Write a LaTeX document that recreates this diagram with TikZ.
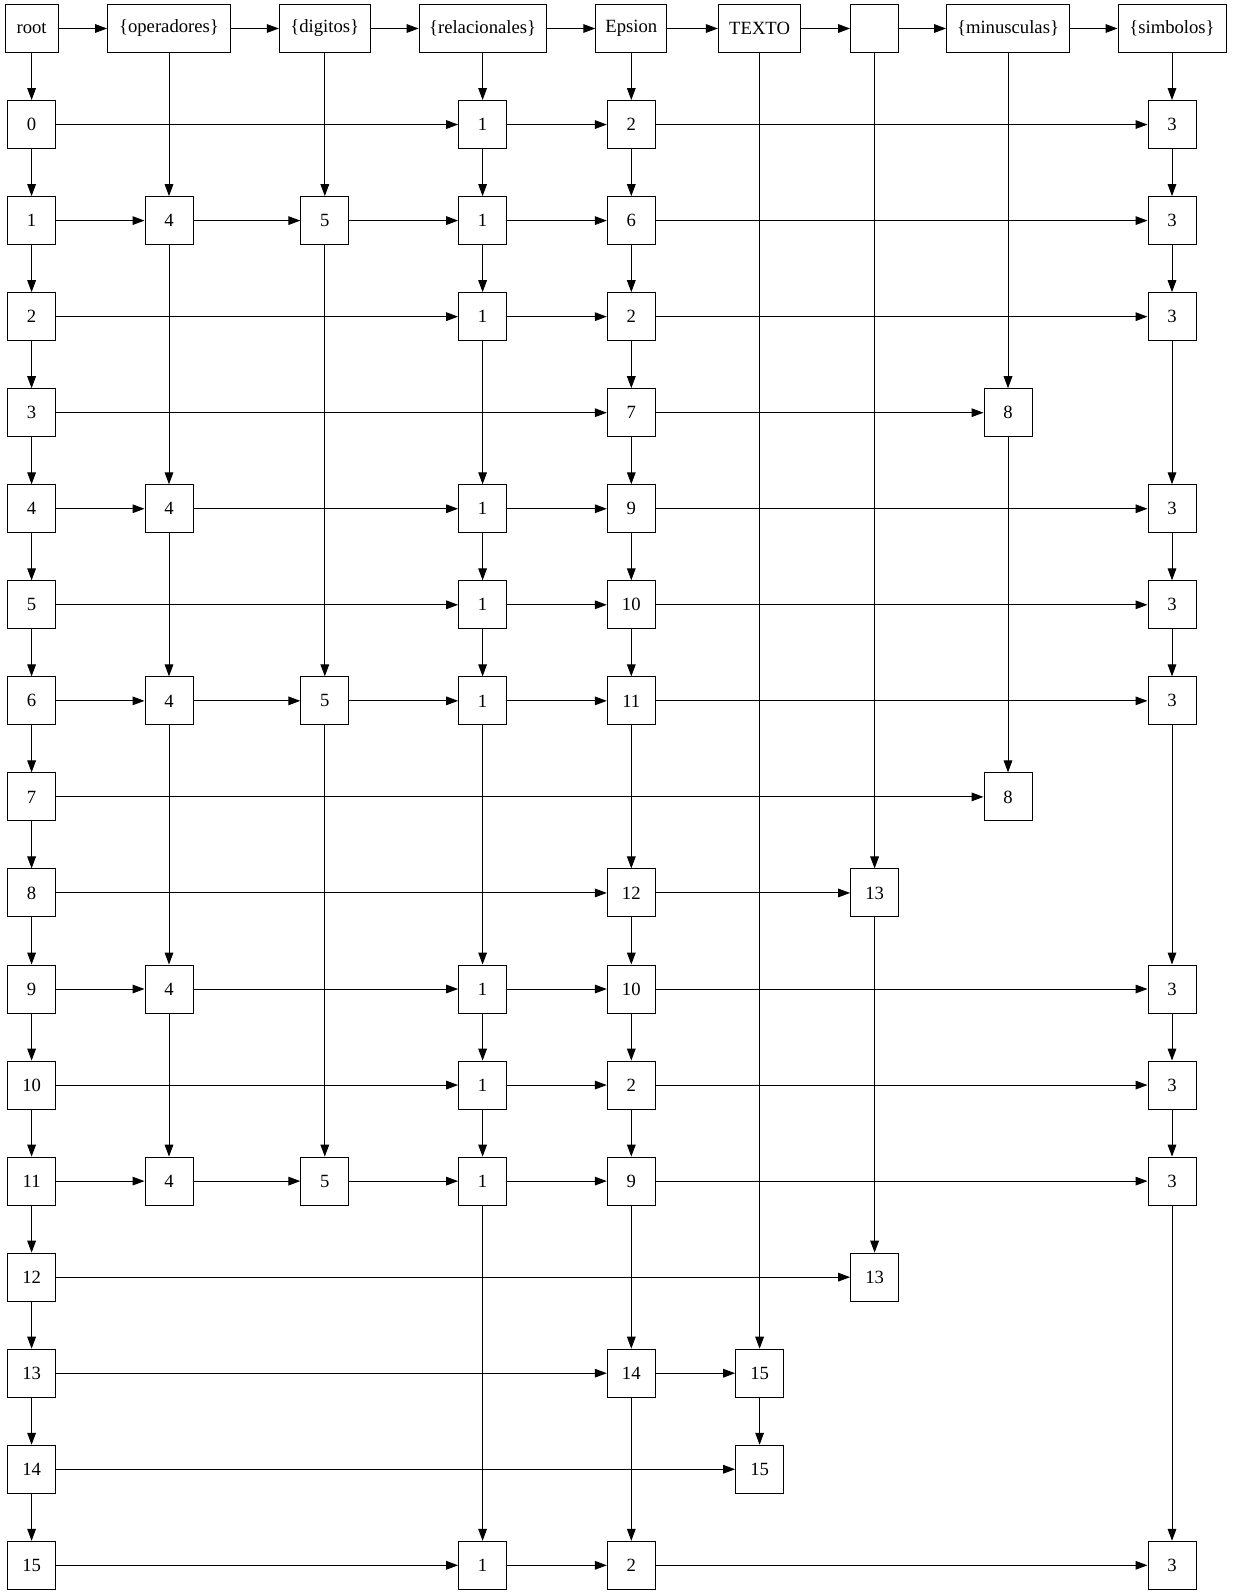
\documentclass[tikz,border=0pt]{standalone}
\usepackage{fontspec}
\setmainfont{Liberation Serif}
\usetikzlibrary{arrows.meta}
\newcommand\Nd[3]{%
  \pgfmathsetmacro\xx{{31.6,169,324.8,482.6,631.3,759.6,874.6,1008,1172}[#2]}%
  \pgfmathsetmacro\yy{28.5+96.05*#1}%
  \node[nb] (n#1-#2) at (\xx,\yy) {#3};}
\newcommand\Hd[3]{%
  \pgfmathsetmacro\xx{{31.6,169,324.8,482.6,631.3,759.6,874.6,1008,1172}[#1]}%
  \node[nb, minimum width=#2*0.75pt] (n0-#1) at (\xx,28.5) {#3};}
\begin{document}
\begin{tikzpicture}[x=0.75pt,y=-0.75pt,
  nb/.style={draw, line width=0.75pt, fill=white, inner sep=0pt, minimum height=36pt, minimum width=36pt,
    font=\fontsize{14}{16}\selectfont},
  e/.style={line width=0.75pt, -{Triangle[length=9pt,width=6.5pt]}}]
\useasboundingbox (0,0) rectangle (1232,1595);
% header
\Hd{0}{53}{root}
\Hd{1}{123}{\{operadores\}}
\Hd{2}{91}{\{digitos\}}
\Hd{3}{127}{\{relacionales\}}
\Hd{4}{71}{Epsion}
\Hd{5}{82.5}{TEXTO}
\Hd{6}{48}{}
\Hd{7}{123}{\{minusculas\}}
\Hd{8}{108}{\{simbolos\}}
% column 0
\foreach \r in {1,...,16}{\pgfmathtruncatemacro\lab{\r-1}\Nd{\r}{0}{\lab}}
% other nodes
\Nd{1}{3}{1}\Nd{1}{4}{2}\Nd{1}{8}{3}
\Nd{2}{1}{4}\Nd{2}{2}{5}\Nd{2}{3}{1}\Nd{2}{4}{6}\Nd{2}{8}{3}
\Nd{3}{3}{1}\Nd{3}{4}{2}\Nd{3}{8}{3}
\Nd{4}{4}{7}\Nd{4}{7}{8}
\Nd{5}{1}{4}\Nd{5}{3}{1}\Nd{5}{4}{9}\Nd{5}{8}{3}
\Nd{6}{3}{1}\Nd{6}{4}{10}\Nd{6}{8}{3}
\Nd{7}{1}{4}\Nd{7}{2}{5}\Nd{7}{3}{1}\Nd{7}{4}{11}\Nd{7}{8}{3}
\Nd{8}{7}{8}
\Nd{9}{4}{12}\Nd{9}{6}{13}
\Nd{10}{1}{4}\Nd{10}{3}{1}\Nd{10}{4}{10}\Nd{10}{8}{3}
\Nd{11}{3}{1}\Nd{11}{4}{2}\Nd{11}{8}{3}
\Nd{12}{1}{4}\Nd{12}{2}{5}\Nd{12}{3}{1}\Nd{12}{4}{9}\Nd{12}{8}{3}
\Nd{13}{6}{13}
\Nd{14}{4}{14}\Nd{14}{5}{15}
\Nd{15}{5}{15}
\Nd{16}{3}{1}\Nd{16}{4}{2}\Nd{16}{8}{3}
% horizontal edges
\foreach \r/\a/\b in {0/0/1,0/1/2,0/2/3,0/3/4,0/4/5,0/5/6,0/6/7,0/7/8,
  1/0/3,1/3/4,1/4/8,
  2/0/1,2/1/2,2/2/3,2/3/4,2/4/8,
  3/0/3,3/3/4,3/4/8,
  4/0/4,4/4/7,
  5/0/1,5/1/3,5/3/4,5/4/8,
  6/0/3,6/3/4,6/4/8,
  7/0/1,7/1/2,7/2/3,7/3/4,7/4/8,
  8/0/7,
  9/0/4,9/4/6,
  10/0/1,10/1/3,10/3/4,10/4/8,
  11/0/3,11/3/4,11/4/8,
  12/0/1,12/1/2,12/2/3,12/3/4,12/4/8,
  13/0/6,
  14/0/4,14/4/5,
  15/0/5,
  16/0/3,16/3/4,16/4/8}
  {\draw[e] (n\r-\a) -- (n\r-\b);}
% vertical edges
\foreach \r in {0,...,15}{\pgfmathtruncatemacro\s{\r+1}\draw[e] (n\r-0) -- (n\s-0);}
\foreach \c/\a/\b in {1/0/2,1/2/5,1/5/7,1/7/10,1/10/12,
  2/0/2,2/2/7,2/7/12,
  3/0/1,3/1/2,3/2/3,3/3/5,3/5/6,3/6/7,3/7/10,3/10/11,3/11/12,3/12/16,
  4/0/1,4/1/2,4/2/3,4/3/4,4/4/5,4/5/6,4/6/7,4/7/9,4/9/10,4/10/11,4/11/12,4/12/14,4/14/16,
  5/0/14,5/14/15,
  6/0/9,6/9/13,
  7/0/4,7/4/8,
  8/0/1,8/1/2,8/2/3,8/3/5,8/5/6,8/6/7,8/7/10,8/10/11,8/11/12,8/12/16}
  {\draw[e] (n\a-\c) -- (n\b-\c);}
\end{tikzpicture}
\end{document}
